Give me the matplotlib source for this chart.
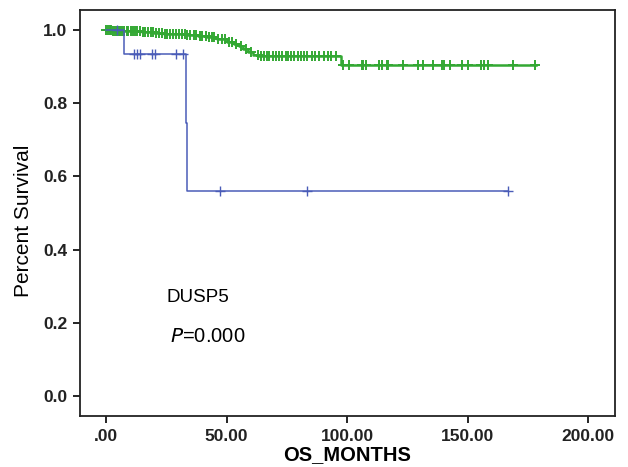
import matplotlib
matplotlib.use("Agg")
import matplotlib.pyplot as plt

plt.rcParams['font.family'] = ['Liberation Sans', 'DejaVu Sans']

# ---- data ----
blue_times = [0.0, 7.6, 33.0, 33.7, 166.6]
blue_surv = [1.0, 0.9333, 0.7467, 0.56, 0.56]
blue_cens_t = [4.7, 11.7, 12.9, 13.9, 19.0, 20.4, 29.1, 32.1, 47.4, 83.4, 166.6]
blue_cens_s = [1.0, 0.9333, 0.9333, 0.9333, 0.9333, 0.9333, 0.9333, 0.9333, 0.56, 0.56, 0.56]

green_times = [0.0, 2.5, 8.0, 15.0, 20.0, 24.0, 28.0, 33.0, 38.0, 42.0, 46.0,
               50.0, 53.0, 55.0, 57.0, 59.0, 61.0, 63.0, 97.5, 178.4]
green_surv = [1.0, 0.998, 0.996, 0.994, 0.992, 0.990, 0.988, 0.985, 0.983, 0.980, 0.975,
              0.968, 0.962, 0.955, 0.948, 0.940, 0.933, 0.928, 0.904, 0.904]
green_cens_t = [0.0, 0.8, 1.5, 2.2, 3.0, 3.8, 4.5, 5.3, 6.0, 6.8, 7.5, 8.5, 9.3, 10.2,
                11.0, 12.0, 13.0, 14.0, 15.2, 16.3, 17.4, 18.5, 19.6, 20.8, 22.0,
                23.1, 24.3, 25.5, 26.7, 27.9, 29.0, 30.2, 31.4, 32.6, 33.8, 35.0,
                36.3, 37.5, 38.8, 40.0, 41.3, 42.6, 43.8, 45.0, 46.5, 48.0, 49.5,
                51.0, 52.2, 54.0, 56.0, 58.0, 60.0,
                62.9, 64.3, 65.4, 66.6, 67.7, 69.1, 70.5, 71.9, 73.2, 74.6, 75.6,
                76.7, 78.1, 79.5, 80.9, 82.2, 83.6, 85.3, 86.7, 88.5, 90.5, 91.9,
                93.3, 95.4,
                98.2, 100.7, 106.2, 106.8, 107.8, 113.1, 114.5, 116.4, 117.2, 123.4,
                129.3, 131.7, 135.8, 139.4, 140.4, 142.7, 147.7, 150.0, 155.6,
                156.9, 158.7, 169.0, 178.1]

x_ticks = [0, 50, 100, 150, 200]
x_tick_labels = [".00", "50.00", "100.00", "150.00", "200.00"]
y_ticks = [0.0, 0.2, 0.4, 0.6, 0.8, 1.0]
y_tick_labels = ["0.0", "0.2", "0.4", "0.6", "0.8", "1.0"]


def surv_at(t, times, surv):
    s = surv[0]
    for tt, ss in zip(times, surv):
        if tt <= t:
            s = ss
    return s


green_cens_s = [surv_at(t, green_times, green_surv) for t in green_cens_t]

blue_c = '#4a5cb8'
green_c = '#33a833'

fig = plt.figure(figsize=(6.28, 4.67), dpi=100)
ax = fig.add_axes([0.1274, 0.1092, 0.8519, 0.8694])

ax.step(green_times, green_surv, where='post', color=green_c, lw=1.8, zorder=3)
ax.plot(green_cens_t, green_cens_s, linestyle='none', marker='+', color=green_c,
        markersize=7.5, markeredgewidth=1.4, zorder=3)

ax.step(blue_times, blue_surv, where='post', color=blue_c, lw=1.1, zorder=4)
ax.plot(blue_cens_t, blue_cens_s, linestyle='none', marker='+', color=blue_c,
        markersize=7, markeredgewidth=1.0, zorder=4)

ax.set_xlim(-10.8, 211.2)
ax.set_ylim(-0.0546, 1.0546)

ax.set_xticks(x_ticks)
ax.set_xticklabels(x_tick_labels)
ax.set_yticks(y_ticks)
ax.set_yticklabels(y_tick_labels)
ax.tick_params(axis='both', direction='out', length=5, width=1.2, labelsize=12.5,
               colors='black', pad=4)
for lab in ax.get_xticklabels() + ax.get_yticklabels():
    lab.set_fontweight('bold')
    lab.set_color('#222222')

for sp in ax.spines.values():
    sp.set_linewidth(1.3)
    sp.set_color('#222222')

ax.set_xlabel('OS_MONTHS', fontsize=14.5, fontweight='bold', labelpad=1)
ax.set_ylabel('Percent Survival', fontsize=15, labelpad=7)
ax.yaxis.set_label_coords(-0.088, 0.48)

ax.text(25.0, 0.27, 'DUSP5', fontsize=13.5, va='center', ha='left')
ax.text(26.5, 0.163, r'$P$=0.000', fontsize=14.5, va='center', ha='left')

fig.savefig('out.png', dpi=100)
